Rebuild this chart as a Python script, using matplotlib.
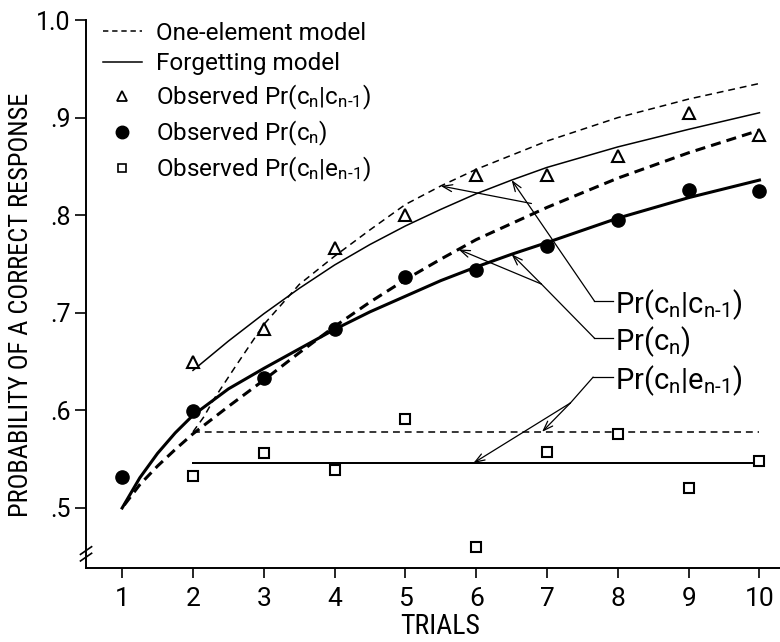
import numpy as np
import matplotlib
matplotlib.use('Agg')
import matplotlib.pyplot as plt
from matplotlib.lines import Line2D

plt.rcParams['font.family'] = ['Roboto', 'DejaVu Sans']
plt.rcParams['mathtext.default'] = 'regular'
cond = ['Roboto Condensed', 'DejaVu Sans']

# observed proportions
trials = [1, 2, 3, 4, 5, 6, 7, 8, 9, 10]
obs_c = [0.532, 0.599, 0.633, 0.683, 0.737, 0.744, 0.768, 0.795, 0.826, 0.825]
trials_cond = [2, 3, 4, 5, 6, 7, 8, 9, 10]
obs_cc = [0.650, 0.683, 0.766, 0.800, 0.841, 0.841, 0.861, 0.905, 0.882]
obs_ce = [0.533, 0.556, 0.539, 0.591, 0.460, 0.557, 0.576, 0.521, 0.548]

# forgetting model
forget_c_x = [1, 1.25, 1.5, 1.75, 2, 2.5, 3, 3.5, 4, 4.5, 5, 5.5, 6, 6.5, 7, 8, 9, 10]
forget_c = [0.500, 0.531, 0.556, 0.577, 0.595, 0.622, 0.643, 0.663, 0.683, 0.701,
            0.717, 0.733, 0.747, 0.760, 0.772, 0.797, 0.818, 0.836]
forget_cc_x = [2, 2.5, 3, 3.5, 4, 4.5, 5, 5.5, 6, 6.5, 7, 8, 9, 10]
forget_cc = [0.641, 0.671, 0.699, 0.725, 0.749, 0.770, 0.789, 0.806, 0.822, 0.836,
             0.849, 0.870, 0.888, 0.905]
forget_ce_x = [2, 10]
forget_ce = [0.546, 0.546]

# one-element model
one_c_x = [1.03, 1.25, 1.5, 1.75, 2, 2.5, 3, 3.5, 4, 4.5, 5, 5.5, 5.75, 6, 7, 8, 9, 10]
one_c = [0.503, 0.524, 0.543, 0.560, 0.576, 0.604, 0.631, 0.659, 0.686, 0.711,
         0.734, 0.755, 0.765, 0.775, 0.808, 0.838, 0.864, 0.887]
one_cc_x = [2.0, 2.15, 2.3, 2.6, 3.0, 3.5, 4.0, 4.5, 5, 5.5, 6, 7, 8, 9, 10]
one_cc = [0.578, 0.593, 0.612, 0.645, 0.688, 0.729, 0.758, 0.785, 0.811, 0.830,
          0.847, 0.876, 0.900, 0.919, 0.935]
one_ce_x = [2, 10]
one_ce = [0.578, 0.578]

yticks = [0.5, 0.6, 0.7, 0.8, 0.9, 1.0]
ytick_labels = ['.5', '.6', '.7', '.8', '.9', '1.0']

fig = plt.figure(figsize=(7.8, 6.42), dpi=100)
ax = fig.add_axes([0.1103, 0.116, 0.8897, 0.8528])

thick, thin = 2.2, 1.1
ax.plot(forget_c_x, forget_c, color='k', lw=thick)
ax.plot(one_c_x, one_c, color='k', lw=thick, ls=(0, (3.3, 2.0)))
ax.plot(forget_cc_x, forget_cc, color='k', lw=thin)
ax.plot(one_cc_x, one_cc, color='k', lw=thin, ls=(0, (4.5, 3.2)))
ax.plot(forget_ce_x, forget_ce, color='k', lw=thin * 1.3)
ax.plot(one_ce_x, one_ce, color='k', lw=thin, ls=(0, (4.5, 3.2)))

ax.plot(trials, obs_c, 'o', color='k', ms=9.5, ls='none')
ax.plot(trials_cond, obs_cc, '^', mfc='white', mec='k', mew=1.5, ms=8.5, ls='none')
ax.plot(trials_cond, obs_ce, 's', mfc='white', mec='k', mew=1.5, ms=7, ls='none')

# callouts
arw = dict(arrowstyle='->,head_length=0.7,head_width=0.25', color='k', lw=0.9,
           shrinkA=0, shrinkB=0)
lab_fs = 21
sub = 'n\N{HYPHEN}1'

ax.text(7.96, 0.708, 'Pr(c$_n$|c$_{%s}$)' % sub, fontsize=lab_fs, va='center', ha='left')
ax.plot([7.67, 7.93], [0.712, 0.712], color='k', lw=0.9)
ax.annotate('', xy=(forget_cc_x[9], forget_cc[9]), xytext=(7.67, 0.712), arrowprops=arw)
ax.annotate('', xy=(one_cc_x[9], one_cc[9]), xytext=(6.78, 0.812), arrowprops=arw)

ax.text(7.96, 0.670, 'Pr(c$_n$)', fontsize=lab_fs, va='center', ha='left')
ax.plot([7.67, 7.93], [0.674, 0.674], color='k', lw=0.9)
ax.plot([7.67, 6.92], [0.674, 0.7295], color='k', lw=0.9)
ax.annotate('', xy=(forget_c_x[13], forget_c[13]), xytext=(6.92, 0.7295), arrowprops=arw)
ax.annotate('', xy=(one_c_x[12], one_c[12]), xytext=(6.92, 0.7295), arrowprops=arw)

ax.text(7.96, 0.630, 'Pr(c$_n$|e$_{%s}$)' % sub, fontsize=lab_fs, va='center', ha='left')
ax.plot([7.65, 7.93], [0.634, 0.634], color='k', lw=0.9)
ax.plot([7.65, 7.33], [0.634, 0.6076], color='k', lw=0.9)
ax.annotate('', xy=(6.93, one_ce[0]), xytext=(7.33, 0.6076), arrowprops=arw)
ax.annotate('', xy=(5.96, forget_ce[0]), xytext=(7.33, 0.6076), arrowprops=arw)

# axes
ax.set_xlim(0.49, 10.29)
ax.set_ylim(0.439, 1.0)
ax.set_xticks(trials)
ax.set_xticklabels([str(t) for t in trials], fontsize=19)
ax.set_yticks(yticks)
ax.set_yticklabels(ytick_labels, fontsize=18)
ax.tick_params(axis='x', direction='out', length=7, width=1.2, pad=7)
ax.tick_params(axis='y', direction='out', length=8, width=1.2, pad=3)
for s in ['top', 'right']:
    ax.spines[s].set_visible(False)
for s in ['left', 'bottom']:
    ax.spines[s].set_linewidth(1.4)

ax.set_xlabel('TRIALS', fontsize=20, family=cond)
ax.xaxis.set_label_coords(0.51, -0.083)
ax.set_ylabel('PROBABILITY OF A CORRECT RESPONSE', fontsize=19, family=cond)
ax.yaxis.set_label_coords(-0.077, 0.479)

# axis break marks
for dy in (0.0, 0.012):
    ax.plot([-0.008, 0.008], [0.012 + dy, 0.026 + dy], color='k', lw=1.2,
            transform=ax.transAxes, clip_on=False)

handles = [
    Line2D([], [], color='k', lw=thin, ls=(0, (3.5, 2.5))),
    Line2D([], [], color='k', lw=thin),
    Line2D([], [], marker='^', color='k', mfc='white', mew=1.3, ms=6.5, ls='none'),
    Line2D([], [], marker='o', color='k', ms=9, ls='none'),
    Line2D([], [], marker='s', color='k', mfc='white', mew=1.2, ms=5.5, ls='none'),
]
labels = ['One-element model', 'Forgetting model', 'Observed Pr(c$_n$|c$_{%s}$)' % sub,
          'Observed Pr(c$_n$)', 'Observed Pr(c$_n$|e$_{%s}$)' % sub]
ax.legend(handles, labels, loc='upper left', bbox_to_anchor=(103 / 780, 1 - 22 / 642),
          bbox_transform=fig.transFigure, frameon=False, fontsize=17.5, handlelength=1.6,
          handletextpad=0.6, labelspacing=0.3, borderpad=0, borderaxespad=0)

fig.savefig('out.png', dpi=100)
